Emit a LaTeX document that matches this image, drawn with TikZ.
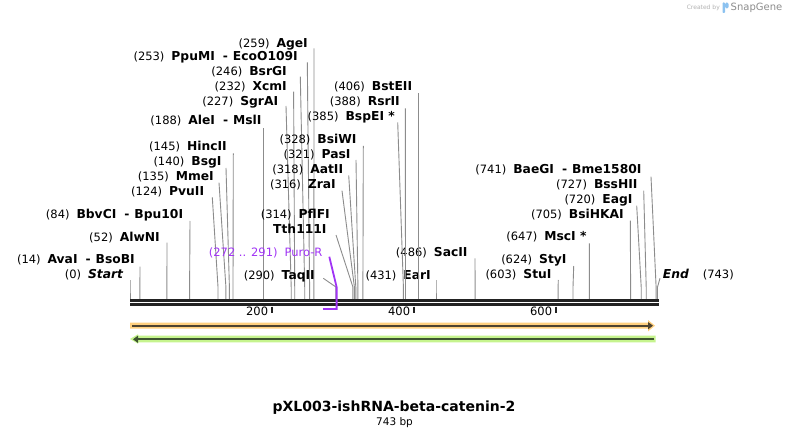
\documentclass[tikz,border=0pt]{standalone}
\usepackage{fontspec}
\setmainfont{DejaVu Sans}
\usetikzlibrary{arrows.meta}
\definecolor{leadgray}{HTML}{8C8C8C}
\definecolor{bbcolor}{HTML}{222222}
\definecolor{puro}{HTML}{A033F5}
\definecolor{orangefill}{HTML}{FFD07F}
\definecolor{orangeline}{HTML}{4D4330}
\definecolor{greenfill}{HTML}{C6F48E}
\definecolor{greenline}{HTML}{3E5530}
\definecolor{snapblue}{HTML}{8CC2F0}
\newcommand{\numgap}{\hspace{7pt}}
\newcommand{\ename}[1]{{\fontsize{12.3}{13}\selectfont\bfseries #1}}
\newcommand{\alsocut}{\hspace{8pt}-\hspace{5pt}}

\begin{document}
\begin{tikzpicture}[x=1pt, y=-1pt,
        enzyme/.style={anchor=base east, inner sep=0pt, font=\fontsize{11.5}{13}\selectfont},
        leader/.style={draw=leadgray, line width=0.9pt},
        backbone/.style={draw=bbcolor, line width=2.7pt, double=white, double distance=1.3pt},
        tick/.style={draw=bbcolor, line width=2pt}
        ]
        \useasboundingbox[fill=white] (0,0) rectangle (789,438);

        \coordinate (bend) at (0,287);
        \coordinate (bbl) at (130,302.35);
        \coordinate (bbr) at (659,302.35);
        \coordinate (s0) at (130,299.5);   \coordinate (s14) at (139.9,299.5);  \coordinate (s52) at (166.9,299.5);
        \coordinate (s84) at (189.6,299.5); \coordinate (s124) at (218,299.5);  \coordinate (s135) at (225.9,299.5);
        \coordinate (s140) at (229.4,299.5); \coordinate (s145) at (233,299.5); \coordinate (s188) at (263.5,299.5);
        \coordinate (s227) at (291.2,299.5); \coordinate (s232) at (294.7,299.5); \coordinate (s246) at (304.7,299.5);
        \coordinate (s253) at (309.6,299.5); \coordinate (s259) at (313.9,299.5); \coordinate (s290) at (335.9,299.5);
        \coordinate (s314) at (352.9,299.5); \coordinate (s316) at (354.4,299.5); \coordinate (s318) at (355.8,299.5);
        \coordinate (s321) at (357.9,299.5); \coordinate (s328) at (362.9,299.5); \coordinate (s385) at (403.4,299.5);
        \coordinate (s388) at (405.5,299.5); \coordinate (s406) at (418.3,299.5); \coordinate (s431) at (436,299.5);
        \coordinate (s486) at (475.1,299.5); \coordinate (s603) at (558.1,299.5); \coordinate (s624) at (573,299.5);
        \coordinate (s647) at (589.4,299.5); \coordinate (s705) at (630.6,299.5); \coordinate (s720) at (641.2,299.5);
        \coordinate (s727) at (646.2,299.5); \coordinate (s741) at (656.1,299.5); \coordinate (s743) at (657.5,299.5);
        \coordinate (p291) at (336.6,309); \coordinate (p272) at (323.1,309);
        \coordinate (t200) at (272,306.5); \coordinate (t400) at (414,306.5); \coordinate (t600) at (556,306.5);

        % left group
        \node[enzyme] (agei) at (308,47.3) {(259)\numgap\ename{AgeI}};
        \node[enzyme] (ppumi) at (298,61) {(253)\numgap\ename{PpuMI\alsocut EcoO109I}};
        \node[enzyme] (bsrgi) at (287,75.7) {(246)\numgap\ename{BsrGI}};
        \node[enzyme] (xcmi) at (287,90.7) {(232)\numgap\ename{XcmI}};
        \node[enzyme] (sgrai) at (278.3,105.3) {(227)\numgap\ename{SgrAI}};
        \node[enzyme] (alei) at (261.7,124.3) {(188)\numgap\ename{AleI\alsocut MslI}};
        \node[enzyme] (hincii) at (227,150.7) {(145)\numgap\ename{HincII}};
        \node[enzyme] (bsgi) at (221.7,166) {(140)\numgap\ename{BsgI}};
        \node[enzyme] (mmei) at (214,180.7) {(135)\numgap\ename{MmeI}};
        \node[enzyme] (pvuii) at (204.3,195.7) {(124)\numgap\ename{PvuII}};
        \node[enzyme] (bbvci) at (183.3,219) {(84)\numgap\ename{BbvCI\alsocut Bpu10I}};
        \node[enzyme] (alwni) at (160,241) {(52)\numgap\ename{AlwNI}};
        \node[enzyme] (avai) at (135,263.3) {(14)\numgap\ename{AvaI\alsocut BsoBI}};
        \node[enzyme] (startlbl) at (123.3,278.3) {(0)\numgap\ename{\itshape Start}};

        \draw[leader] ([shift={(6,1)}]agei.base east) -- (s259 |- bend) -- (s259);
        \draw[leader] ([shift={(9.3,1.3)}]ppumi.base east) -- (s253 |- bend) -- (s253);
        \draw[leader] ([shift={(13.3,1)}]bsrgi.base east) -- (s246 |- bend) -- (s246);
        \draw[leader] ([shift={(6.6,1)}]xcmi.base east) -- (s232 |- bend) -- (s232);
        \draw[leader] ([shift={(7.7,0.7)}]sgrai.base east) -- (s227 |- bend) -- (s227);
        \draw[leader] ([shift={(1.8,4)}]alei.base east) -- (s188 |- bend) -- (s188);
        \draw[leader] ([shift={(6.3,2.6)}]hincii.base east) -- (s145 |- bend) -- (s145);
        \draw[leader] ([shift={(4.3,2)}]bsgi.base east) -- (s140 |- bend) -- (s140);
        \draw[leader] ([shift={(5,2)}]mmei.base east) -- (s135 |- bend) -- (s135);
        \draw[leader] ([shift={(8,1.6)}]pvuii.base east) -- (s124 |- bend) -- (s124);
        \draw[leader] ([shift={(6.7,2)}]bbvci.base east) -- (s84 |- bend) -- (s84);
        \draw[leader] ([shift={(7,1.7)}]alwni.base east) -- (s52 |- bend) -- (s52);
        \draw[leader] ([shift={(5,3.4)}]avai.base east) -- (s14 |- bend) -- (s14);
        \draw[leader] ([shift={(6.7,1.7)}]startlbl.base east) -- (s0 |- bend) -- (s0);

        % middle group
        \node[enzyme] (bsiwi) at (356.7,144) {(328)\numgap\ename{BsiWI}};
        \node[enzyme] (pasi) at (350.7,159) {(321)\numgap\ename{PasI}};
        \node[enzyme] (aatii) at (343.3,174) {(318)\numgap\ename{AatII}};
        \node[enzyme] (zrai) at (336,189) {(316)\numgap\ename{ZraI}};
        \node[enzyme] (pflfi) at (330,218.3) {(314)\numgap\ename{PflFI}};
        \node[enzyme] (tthi) at (326.7,234) {\ename{Tth111I}};
        \node[enzyme, text=puro] (purolbl) at (322.7,256) {(272 .. 291)\numgap Puro-R};
        \node[enzyme] (taqii) at (315,279) {(290)\numgap\ename{TaqII}};
        \node[enzyme] (bsteii) at (412.3,90.7) {(406)\numgap\ename{BstEII}};
        \node[enzyme] (rsrii) at (400,105.7) {(388)\numgap\ename{RsrII}};
        \node[enzyme] (bspei) at (395,120.7) {(385)\numgap\ename{BspEI *}};
        \node[enzyme] (sacii) at (467.7,256) {(486)\numgap\ename{SacII}};
        \node[enzyme] (eari) at (431,279) {(431)\numgap\ename{EarI}};

        \draw[leader] ([shift={(6.6,2)}]bsiwi.base east) -- (s328 |- bend) -- (s328);
        \draw[leader] ([shift={(5.3,1)}]pasi.base east) -- (s321 |- bend) -- (s321);
        \draw[leader] ([shift={(5.4,1.3)}]aatii.base east) -- (s318 |- bend) -- (s318);
        \draw[leader] ([shift={(6,1.7)}]zrai.base east) -- (s316 |- bend) -- (s316);
        \draw[leader] ([shift={(9.3,1)}]tthi.base east) -- (s314 |- bend) -- (s314);
        \draw[leader] ([shift={(8.3,-0.7)}]taqii.base east) -- (s290 |- bend) -- (s290);
        \draw[leader] ([shift={(6,2.6)}]bsteii.base east) -- (s406 |- bend) -- (s406);
        \draw[leader] ([shift={(5.3,2.6)}]rsrii.base east) -- (s388 |- bend) -- (s388);
        \draw[leader] ([shift={(2.7,1.6)}]bspei.base east) -- (s385 |- bend) -- (s385);
        \draw[leader] ([shift={(7.3,2.3)}]sacii.base east) -- (s486 |- bend) -- (s486);
        \draw[leader] ([shift={(5,1)}]eari.base east) -- (s431 |- bend) -- (s431);

        % right group
        \node[enzyme] (baegi) at (641.7,173.3) {(741)\numgap\ename{BaeGI\alsocut Bme1580I}};
        \node[enzyme] (bsshii) at (637.7,188.3) {(727)\numgap\ename{BssHII}};
        \node[enzyme] (eagi) at (632.7,204) {(720)\numgap\ename{EagI}};
        \node[enzyme] (bsihkai) at (624,219) {(705)\numgap\ename{BsiHKAI}};
        \node[enzyme] (msci) at (586.7,240.7) {(647)\numgap\ename{MscI *}};
        \node[enzyme] (styi) at (566.7,263.3) {(624)\numgap\ename{StyI}};
        \node[enzyme] (stui) at (551.7,278.3) {(603)\numgap\ename{StuI}};
        \node[enzyme, anchor=base west] (endlbl) at (662.7,278) {\ename{\itshape End}\hspace{14pt}(743)};

        \draw[leader] ([shift={(9.3,3.4)}]baegi.base east) -- (s741 |- bend) -- (s741);
        \draw[leader] ([shift={(6,2.4)}]bsshii.base east) -- (s727 |- bend) -- (s727);
        \draw[leader] ([shift={(4,1.7)}]eagi.base east) -- (s720 |- bend) -- (s720);
        \draw[leader] ([shift={(6.3,1.7)}]bsihkai.base east) -- (s705 |- bend) -- (s705);
        \draw[leader] ([shift={(2.6,2.6)}]msci.base east) -- (s647 |- bend) -- (s647);
        \draw[leader] ([shift={(7,2.7)}]styi.base east) -- (s624 |- bend) -- (s624);
        \draw[leader] ([shift={(6.6,1.7)}]stui.base east) -- (s603 |- bend) -- (s603);
        \draw[leader] ([shift={(-2.7,0.3)}]endlbl.base west) -- (s743 |- bend) -- (s743);

        % backbone and ruler
        \draw[backbone] (bbl) -- (bbr);
        \draw[tick] (t200) -- ++(0,6);
        \draw[tick] (t400) -- ++(0,6);
        \draw[tick] (t600) -- ++(0,6);
        \node[enzyme] (r200) at (268.3,315.7) {200};
        \node[enzyme] (r400) at (410.3,315.7) {400};
        \node[enzyme] (r600) at (552.3,315.7) {600};

        \draw[puro, line width=1.8pt] ([shift={(6.6,0.7)}]purolbl.base east) -- (p291 |- bend) -- (p291) -- (p272);

        % features
        \fill[orangefill] (130,322.7) -- (648,322.7) -- (648,320) -- (655,325.7) -- (648,331.4) -- (648,328.7) -- (130,328.7) -- cycle;
        \draw[orangeline, line width=2.4pt, -{Triangle[length=5pt,width=7pt]}] (132.3,325.7) -- (653,325.7);
        \fill[greenfill] (655.7,335.7) -- (138,335.7) -- (138,334.3) -- (130,339) -- (138,343.7) -- (138,342.3) -- (655.7,342.3) -- cycle;
        \draw[greenline, line width=2pt, -{Triangle[length=5pt,width=7pt]}] (654,339.3) -- (133,339.3);

        \node[anchor=base, font=\bfseries\fontsize{14}{16}\selectfont] (title) at (394,411.7) {pXL003-ishRNA-beta-catenin-2};
        \node[anchor=base, font=\fontsize{10.5}{12}\selectfont] (length) at (394.5,425.7) {743 bp};

        \node[anchor=base east, inner sep=0pt, text=black!30, font=\fontsize{6}{7}\selectfont] (credit) at (720,10) {Created by};
        \fill[snapblue, rounded corners=0.8pt] (722.5,2.5) rectangle (725,13);
        \fill[snapblue, rounded corners=1.5pt] (725,2.5) rectangle (728.5,8.5);
        \node[anchor=base west, inner sep=0pt, text=black!45, font=\fontsize{10}{11}\selectfont] (snapgene) at (730.5,11) {SnapGene};
    \end{tikzpicture}
\end{document}
